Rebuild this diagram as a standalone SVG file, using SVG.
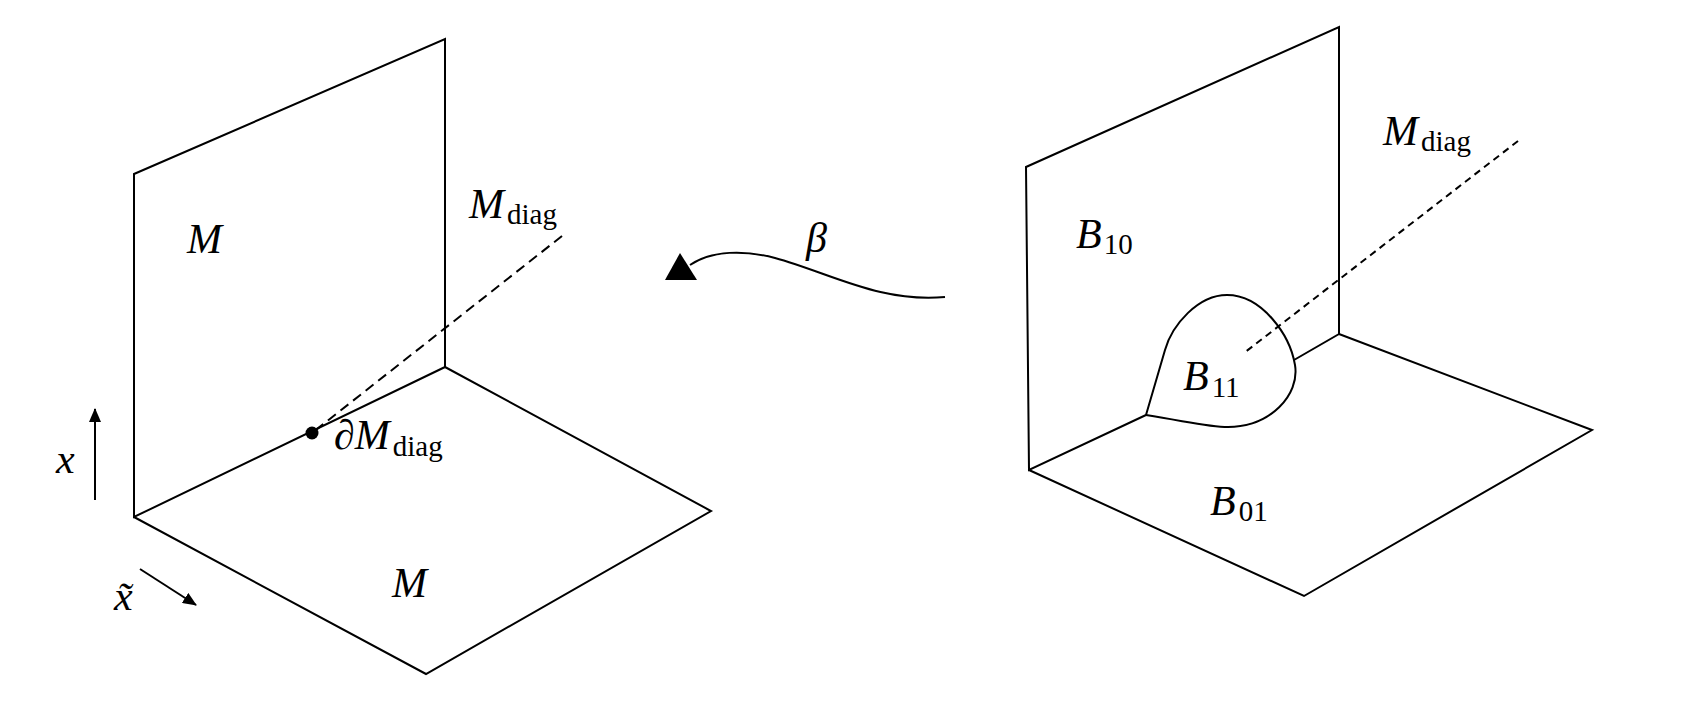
<svg xmlns="http://www.w3.org/2000/svg" width="1690" height="702" viewBox="0 0 1690 702">
<style>
.ln{fill:none;stroke:#000;stroke-width:2;stroke-linejoin:miter}
.dl{fill:none;stroke:#000;stroke-width:2;stroke-dasharray:10 6}
.dr{fill:none;stroke:#000;stroke-width:2;stroke-dasharray:7 5}
text{font-family:"Liberation Serif","DejaVu Serif",serif;fill:#000}
.m{font-size:42px;font-style:italic}
.s{font-size:29px;font-style:normal}
</style>
<defs>
<marker id="ah" viewBox="0 0 14 12" refX="13" refY="6" markerWidth="14" markerHeight="12" markerUnits="userSpaceOnUse" orient="auto">
<path d="M0,0 L14,6 L0,12 z" fill="#000"/>
</marker>
</defs>
<rect width="1690" height="702" fill="#fff"/>
<g id="left-back-plane">
<path class="ln" d="M134,517 L134,174 L445,39 L445,367 Z"/>
<text class="m" x="187" y="253">M</text>
</g>
<g id="left-floor">
<path class="ln" d="M134,517 L426,674 L711,511 L445,367"/>
<text class="m" x="392" y="597">M</text>
</g>
<g id="left-mdiag">
<path class="dl" d="M562,236 L312,433"/>
<text class="m" x="469" y="218">M<tspan class="s" dx="3" dy="6">diag</tspan></text>
</g>
<g id="left-boundary">
<circle cx="312" cy="433" r="6.5" fill="#000"/>
<text class="m" x="334" y="449">∂M<tspan class="s" dx="3" dy="7">diag</tspan></text>
</g>
<g id="axes">
<line class="ln" x1="95" y1="500" x2="95" y2="409" marker-end="url(#ah)"/>
<text class="m" x="56" y="473">x</text>
<line class="ln" x1="140" y1="569" x2="196" y2="605" marker-end="url(#ah)"/>
<text class="m" x="114" y="610">x&#x303;</text>
</g>
<g id="connectors">
<path class="ln" d="M690,265 C712,250 745,250 775,258 C830,273 880,303 945,297"/>
<polygon points="680,253 665,280 697,280" fill="#000"/>
<text class="m" x="806" y="252">β</text>
</g>
<g id="right-back-plane">
<path class="ln" d="M1146,415 L1029,470 L1026,167 L1339,27 L1339,334 L1294,360"/>
<text class="m" x="1076" y="248">B<tspan class="s" dx="2" dy="6">10</tspan></text>
</g>
<g id="right-floor">
<path class="ln" d="M1029,470 L1304,596 L1592,430 L1339,334"/>
<text class="m" x="1210" y="515">B<tspan class="s" dx="3" dy="6">01</tspan></text>
</g>
<g id="right-blob">
<path class="ln" d="M1146,415 L1165,350 C1172,325 1198,295 1227,295 C1262,295 1290,335 1295,365 C1300,395 1270,427 1228,427 C1210,427 1195,423 1146,415 Z"/>
<text class="m" x="1183" y="390">B<tspan class="s" dx="3" dy="7">11</tspan></text>
</g>
<g id="right-mdiag">
<path class="dr" d="M1518,141 L1244,353"/>
<text class="m" x="1383" y="145">M<tspan class="s" dx="3" dy="6">diag</tspan></text>
</g>
</svg>
